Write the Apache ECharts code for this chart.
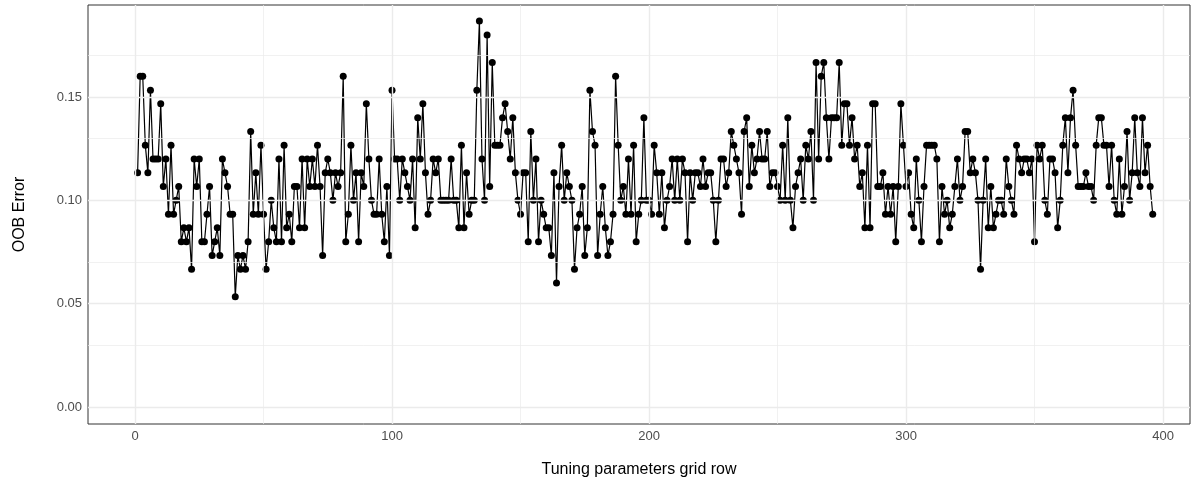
<!DOCTYPE html>
<html>
<head>
<meta charset="utf-8">
<title>OOB Error by tuning grid row</title>
<script src="https://cdn.jsdelivr.net/npm/echarts@6/dist/echarts.min.js"></script>
<style>
  html, body { margin: 0; padding: 0; background: #fff; }
  #oob { width: 1200px; height: 484px; }
</style>
</head>
<body>
<div id="oob"></div>
<script>
// OOB error per tuning grid row (rows 1..396)
var rows1 = [0.1133,0.16,0.16,0.1267,0.1133,0.1533,0.12,0.12,0.12,0.1467,0.1067,0.12,0.0933,0.1267,0.0933,0.1,0.1067,0.08,0.0867,0.08,0.0867,0.0667,0.12,0.1067,0.12,0.08,0.08,0.0933,0.1067,0.0733,0.08];
var rows2 = [0.0867,0.0733,0.12,0.1133,0.1067,0.0933,0.0933,0.0533,0.0733,0.0667,0.0733,0.0667,0.08,0.1333,0.0933,0.1133,0.0933,0.1267,0.0933,0.0667,0.08,0.1,0.0867,0.08,0.12,0.08,0.1267,0.0867,0.0933,0.08,0.1067,0.1067,0.0867,0.12];
var rows3 = [0.0867,0.12,0.1067,0.12,0.1067,0.1267,0.1067,0.0733,0.1133,0.12,0.1133,0.1,0.1133,0.1067,0.1133,0.16,0.08,0.0933,0.1267,0.1,0.1133,0.08,0.1133,0.1067,0.1467,0.12,0.1,0.0933,0.0933,0.12,0.0933,0.08,0.1067,0.0733,0.1533];
var rows4 = [0.12,0.12,0.1,0.12,0.1133,0.1067,0.1,0.12,0.0867,0.14,0.12,0.1467,0.1133,0.0933,0.1,0.12,0.1133,0.12,0.1,0.1,0.1,0.1,0.12,0.1,0.1,0.0867,0.1267,0.0867,0.1133,0.0933,0.1,0.1,0.1533];
var rows5 = [0.1867,0.12,0.1,0.18,0.1067,0.1667,0.1267,0.1267,0.1267,0.14,0.1467,0.1333,0.12,0.14,0.1133,0.1,0.0933,0.1133,0.1133,0.08,0.1333,0.1,0.12,0.08,0.1,0.0933,0.0867,0.0867,0.0733,0.1133,0.06,0.1067,0.1267,0.1,0.1133,0.1067];
var rows6 = [0.1,0.0667,0.0867,0.0933,0.1067,0.0733,0.0867,0.1533,0.1333,0.1267,0.0733,0.0933,0.1067,0.0867,0.0733,0.08,0.0933,0.16,0.1267,0.1,0.1067,0.0933,0.12,0.0933,0.1267,0.08,0.0933,0.1,0.14,0.1,0.1,0.0933,0.1267];
var rows7 = [0.1133,0.0933,0.1133,0.0867,0.1,0.1067,0.12,0.1,0.12,0.1,0.12,0.1133,0.08,0.1133,0.1,0.1133,0.1133,0.1067,0.12,0.1067,0.1133,0.1133,0.1,0.08,0.1,0.12,0.12,0.1067,0.1133,0.1333,0.1267,0.12,0.1133,0.0933,0.1333,0.14];
var rows8 = [0.1067,0.1267,0.1133,0.12,0.1333,0.12,0.12,0.1333,0.1067,0.1133,0.1133,0.1067,0.1,0.1267,0.1,0.14,0.1,0.0867,0.1067,0.1133,0.12,0.1,0.1267,0.12,0.1333,0.1,0.1667,0.12,0.16,0.1667,0.14,0.12,0.14];
var rows9 = [0.14,0.14,0.1667,0.1267,0.1467,0.1467,0.1267,0.14,0.12,0.1267,0.1067,0.1133,0.0867,0.1267,0.0867,0.1467,0.1467,0.1067,0.1067,0.1133,0.0933,0.1067,0.0933,0.1067,0.08,0.1067,0.1467,0.1267,0.1067,0.1133,0.0933,0.0867,0.12,0.1,0.08];
var rows10 = [0.1067,0.1267,0.1267,0.1267,0.1267,0.12,0.08,0.1067,0.0933,0.1,0.0867,0.0933,0.1067,0.12,0.1,0.1067,0.1333,0.1333,0.1133,0.12,0.1133,0.1,0.0667,0.1,0.12,0.0867,0.1067,0.0867,0.0933,0.1,0.1,0.0933,0.12,0.1067];
var rows11 = [0.1,0.0933,0.1267,0.12,0.1133,0.12,0.12,0.1133,0.12,0.08,0.1267,0.12,0.1267,0.1,0.0933,0.12,0.12,0.1133,0.0867,0.1,0.1267,0.14,0.1133,0.14,0.1533,0.1267,0.1067,0.1067,0.1067,0.1133,0.1067,0.1067,0.1,0.1267];
var rows12 = [0.14,0.14,0.1267,0.1267,0.1067,0.1267,0.1,0.0933,0.12,0.0933,0.1067,0.1333,0.1,0.1133,0.14,0.1133,0.1067,0.14,0.1133,0.1267,0.1067,0.0933];

var xTicks = [0, 100, 200, 300, 400];
var yTicks = [0, 0.05, 0.1, 0.15];
var xMinor = [50, 150, 250, 350];
var yMinor = [0.025, 0.075, 0.125, 0.175];

var oobError = [].concat(rows1, rows2, rows3, rows4, rows5, rows6,
                         rows7, rows8, rows9, rows10, rows11, rows12);
var points = oobError.map(function(v, i) { return [i + 1, v]; });

var fontFamily = '"Liberation Sans", Arial, sans-serif';

// panel grid lines (ggplot theme_bw look)
function gridLines() {
  var out = [];
  yMinor.forEach(function(v) { out.push({ yAxis: v, lineStyle: { width: 0.7 } }); });
  xMinor.forEach(function(v) { out.push({ xAxis: v, lineStyle: { width: 0.7 } }); });
  yTicks.forEach(function(v) { out.push({ yAxis: v, lineStyle: { width: 1.4 } }); });
  xTicks.forEach(function(v) { out.push({ xAxis: v, lineStyle: { width: 1.4 } }); });
  return out;
}

var myChart = echarts.init(document.getElementById('oob'), null, { renderer: 'canvas' });

var option = {
  animation: false,
  backgroundColor: '#ffffff',
  grid: {
    left: 88, right: 10, top: 5, bottom: 60,
    show: true,
    backgroundColor: '#ffffff',
    borderColor: '#333333',
    borderWidth: 1
  },
  xAxis: {
    type: 'value',
    min: -18.3,
    max: 410.5,
    name: 'Tuning parameters grid row',
    nameLocation: 'middle',
    nameGap: 38,
    nameTextStyle: { color: '#000', fontSize: 16, fontFamily: fontFamily },
    axisLine: { show: false },
    axisTick: { show: true, customValues: xTicks, length: 4, lineStyle: { color: '#333333' } },
    axisLabel: { customValues: xTicks, color: '#4d4d4d', fontSize: 13, fontFamily: fontFamily, margin: 6 },
    splitLine: { show: false }
  },
  yAxis: {
    type: 'value',
    min: -0.0082,
    max: 0.1945,
    name: 'OOB Error',
    nameLocation: 'middle',
    nameGap: 60,
    nameTextStyle: { color: '#000', fontSize: 16, fontFamily: fontFamily },
    axisLine: { show: false },
    axisTick: { show: true, customValues: yTicks, length: 4, lineStyle: { color: '#333333' } },
    axisLabel: {
      customValues: yTicks, color: '#4d4d4d', fontSize: 13, fontFamily: fontFamily, margin: 6,
      formatter: function(v) { return v.toFixed(2); }
    },
    splitLine: { show: false }
  },
  series: [
    {
      name: 'grid',
      type: 'line',
      data: [],
      z: 1,
      silent: true,
      markLine: {
        silent: true,
        symbol: ['none', 'none'],
        label: { show: false },
        lineStyle: { color: '#ebebeb', type: 'solid' },
        emphasis: { disabled: true },
        data: gridLines()
      }
    },
    {
      name: 'OOB Error',
      type: 'line',
      z: 3,
      data: points,
      symbol: 'circle',
      symbolSize: 7,
      showSymbol: true,
      showAllSymbol: true,
      lineStyle: { color: '#000000', width: 1.2 },
      itemStyle: { color: '#000000' }
    }
  ]
};

myChart.setOption(option);
window.addEventListener('resize', myChart.resize);
</script>
</body>
</html>
